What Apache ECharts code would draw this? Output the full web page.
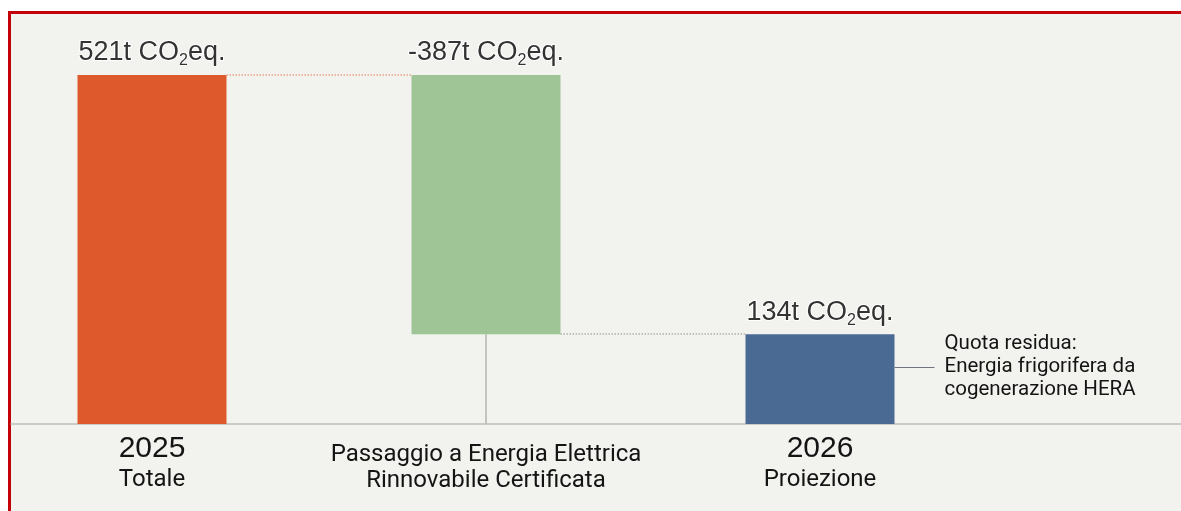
<!DOCTYPE html>
<html>
<head>
<meta charset="utf-8">
<script src="https://cdn.jsdelivr.net/npm/echarts@6/dist/echarts.min.js"></script>
<style>
  html, body { margin: 0; padding: 0; background: #ffffff; width: 1181px; height: 511px; overflow: hidden; }
  #frame { position: absolute; left: 8px; top: 11px; width: 1200px; height: 540px;
           border-left: 3px solid #c4000b; border-top: 3px solid #c4000b; background: #f2f2ef; }
  #chart { position: absolute; left: 0; top: 0; width: 1181px; height: 511px; }
</style>
</head>
<body>
<div id="frame"></div>
<div id="chart"></div>
<script>
// ---- data ----
const years = ['2025', '', '2026'];
const subLabels = ['Totale', 'Passaggio a Energia Elettrica\nRinnovabile Certificata', 'Proiezione'];
const values = [521, -387, 134];            // t CO2eq.
const kinds = ['total', 'delta', 'total'];
const barColors = ['#de5a2c', '#9fc597', '#4a6a94'];
const noteText = 'Quota residua:\nEnergia frigorifera da\ncogenerazione HERA';
const noteLevel = 85;                         // value at which the note leader sits

// ---- layout constants ----
const pxPerUnit = 334, firstCenterPx = 152, gridLeft = 11, chartW = 1181, barW = 149;
const xMin = -(firstCenterPx - gridLeft) / pxPerUnit;
const xMax = (chartW - firstCenterPx) / pxPerUnit;
const half = (barW / 2) / pxPerUnit;

// waterfall extents
let running = 0;
const bottoms = [], tops = [];
values.forEach((v, i) => {
  if (kinds[i] === 'total') { bottoms.push(0); tops.push(v); running = v; }
  else { const nr = running + v; bottoms.push(Math.min(running, nr)); tops.push(Math.max(running, nr)); running = nr; }
});

const ink = '#141414';
const labelRich = {
  a: { fontFamily: 'Liberation Sans', fontSize: 27, lineHeight: 32, color: ink },
  b: { fontFamily: 'Liberation Sans', fontSize: 16, lineHeight: 12, verticalAlign: 'bottom', color: ink }
};

const chart = echarts.init(document.getElementById('chart'), null, { renderer: 'canvas' });

const option = {
  backgroundColor: 'transparent',
  animation: false,
  grid: { left: gridLeft, right: 0, top: 75, bottom: 87 },
  xAxis: {
    type: 'value', min: xMin, max: xMax,
    splitLine: { show: false },
    axisTick: { show: false },
    axisLine: { show: true, onZero: false, lineStyle: { color: '#bfbfb7', width: 1.5 } },
    axisLabel: {
      customValues: [0, 1, 2],
      margin: 8,
      color: ink,
      formatter: function (val) {
        const i = Math.round(val);
        if (years[i]) return '{y|' + years[i] + '}\n{s|' + subLabels[i] + '}';
        return '{sp| }\n' + subLabels[i].split('\n').map(l => '{m|' + l + '}').join('\n');
      },
      rich: {
        y: { fontFamily: 'Liberation Sans', fontSize: 30, lineHeight: 34, color: ink },
        s: { fontFamily: 'Roboto', fontSize: 24, lineHeight: 28, color: ink },
        m: { fontFamily: 'Roboto', fontSize: 24, lineHeight: 26, color: ink },
        sp: { fontSize: 1, lineHeight: 10 }
      }
    }
  },
  yAxis: { type: 'value', min: 0, max: values[0], show: false, splitLine: { show: false } },
  series: [
    {
      type: 'custom', silent: true,
      data: values.map((v, i) => [i, bottoms[i], tops[i], v]),
      encode: { x: 0, y: [1, 2] },
      renderItem: function (params, api) {
        const i = params.dataIndex;
        const x = api.value(0);
        const pTop = api.coord([x, api.value(2)]);
        const pBot = api.coord([x, api.value(1)]);
        return {
          type: 'rect',
          shape: { x: pTop[0] - barW / 2, y: pTop[1], width: barW, height: pBot[1] - pTop[1] },
          style: { fill: barColors[i] },
          textContent: {
            style: { text: '{a|' + api.value(3) + 't CO}{b|2}{a|eq.}', rich: labelRich }
          },
          textConfig: { position: 'top', distance: 6 }
        };
      }
    },
    {
      type: 'line', data: [], silent: true, showSymbol: false,
      markLine: {
        silent: true, symbol: 'none',
        label: { show: false },
        data: [
          [ { coord: [0 + half, tops[0]], lineStyle: { color: '#eaa386', type: 'dotted', width: 1.5 } },
            { coord: [1 - half, tops[0]] } ],
          [ { coord: [1 + half, bottoms[1]], lineStyle: { color: '#b3b3ad', type: 'dotted', width: 1.5 } },
            { coord: [2 - half, bottoms[1]] } ],
          [ { coord: [1, bottoms[1]], lineStyle: { color: '#b5b5af', type: 'solid', width: 1.5 } },
            { coord: [1, 0] } ],
          [ { coord: [2 + half, noteLevel], lineStyle: { color: '#6f7480', type: 'solid', width: 1.2 },
              label: { show: true, position: 'end', distance: 10, formatter: noteText,
                       fontFamily: 'Roboto', fontSize: 20.5, lineHeight: 23, color: ink, align: 'left' } },
            { coord: [2 + half + 40 / pxPerUnit, noteLevel] } ]
        ]
      }
    }
  ]
};
chart.setOption(option);
</script>
</body>
</html>
